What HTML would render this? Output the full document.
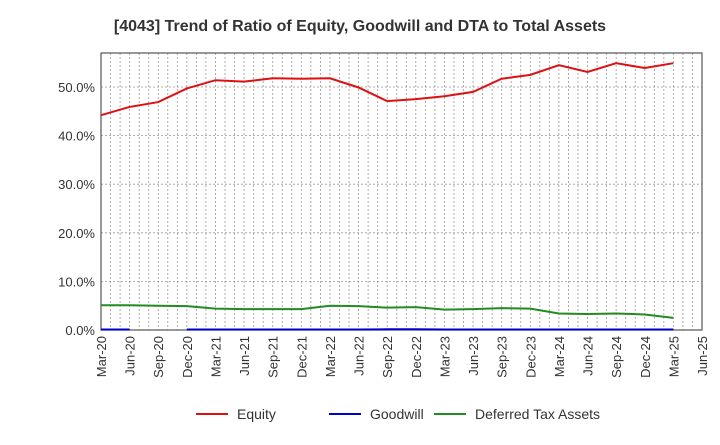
<!DOCTYPE html>
<html><head><meta charset="utf-8"><style>
body{margin:0;background:#fff;font-family:"Liberation Sans",sans-serif}
</style></head><body>
<svg id="c" width="720" height="440" font-family="Liberation Sans, sans-serif"></svg>
<script>
const categories=["Mar-20","Jun-20","Sep-20","Dec-20","Mar-21","Jun-21","Sep-21","Dec-21","Mar-22","Jun-22","Sep-22","Dec-22","Mar-23","Jun-23","Sep-23","Dec-23","Mar-24","Jun-24","Sep-24","Dec-24","Mar-25","Jun-25"];
const equity=[44.2,45.9,46.9,49.7,51.4,51.1,51.8,51.7,51.8,49.9,47.1,47.5,48.1,49.0,51.7,52.5,54.5,53.1,54.9,53.9,54.9];
const goodwill=[0.1,0.1,null,0.1,0.1,0.1,0.1,0.1,0.1,0.1,0.15,0.15,0.1,0.1,0.1,0.1,0.1,0.1,0.1,0.1,0.1];
const dta=[5.1,5.1,5.0,4.9,4.4,4.3,4.3,4.3,5.0,4.9,4.6,4.7,4.2,4.3,4.5,4.4,3.4,3.3,3.4,3.2,2.5];
const yTicks=[0,10,20,30,40,50];
const L=101,R=702,T=53,B=330;
const x=i=>L+i*(R-L)/(categories.length-1);
const y=v=>B-v*(B-87)/50;
const svg=document.getElementById('c');
const NS='http://www.w3.org/2000/svg';
function mk(t,a,p){const e=document.createElementNS(NS,t);for(const k in a)e.setAttribute(k,a[k]);(p||svg).appendChild(e);return e;}
const title=mk('text',{x:360,y:31,'text-anchor':'middle','font-size':16,'font-weight':'bold',fill:'#333'});
title.textContent='[4043]  Trend of Ratio of Equity, Goodwill and DTA to Total Assets';


for(let m=1;m<(categories.length-1)*3;m++){
 const xx=L+m*(R-L)/((categories.length-1)*3);
 const g=mk('line',{x1:xx,x2:xx,y1:T,y2:B,stroke:'#999','stroke-dasharray':'2,2','stroke-width':0.8});
 
 
}
yTicks.forEach(v=>{
 if(v>0){const g=mk('line',{x1:L,x2:R,y1:y(v),y2:y(v),stroke:'#999','stroke-dasharray':'2,2','stroke-width':0.8});
 
 }
 const t=mk('text',{x:L-6,y:y(v)+5,'text-anchor':'end','font-size':13,fill:'#333'});
 t.textContent=v.toFixed(1)+'%';
 
 
});
const fr=mk('rect',{x:L,y:T,width:R-L,height:B-T,fill:'none',stroke:'#555','stroke-width':1.2});


categories.forEach((c,i)=>{
 const t=mk('text',{transform:`translate(${x(i)+5},${B+6}) rotate(-90)`,'text-anchor':'end','font-size':13,fill:'#333'});
 t.textContent=c;
 
 
});
function line(data,color,name){
 let d='',pen=false;
 data.forEach((v,i)=>{if(v==null){pen=false;return;}d+=(pen?'L':'M')+x(i)+','+y(v)+' ';pen=true;});
 const p=mk('path',{d:d,fill:'none',stroke:color,'stroke-width':2});
 
 
}
line(dta,'#228B22','dta-line');
line(goodwill,'#0000CC','goodwill-line');
line(equity,'#DD1111','equity-line');
const leg=[['Equity','#DD1111',196],['Goodwill','#0000CC',329],['Deferred Tax Assets','#228B22',434]];
leg.forEach(([n,c,lx])=>{
 const g=mk('g',{});
 
 
 mk('line',{x1:lx,x2:lx+32,y1:414,y2:414,stroke:c,'stroke-width':2},g);
 const t=mk('text',{x:lx+41,y:419,'font-size':14,fill:'#333'},g);t.textContent=n;
});
</script>
</body></html>
